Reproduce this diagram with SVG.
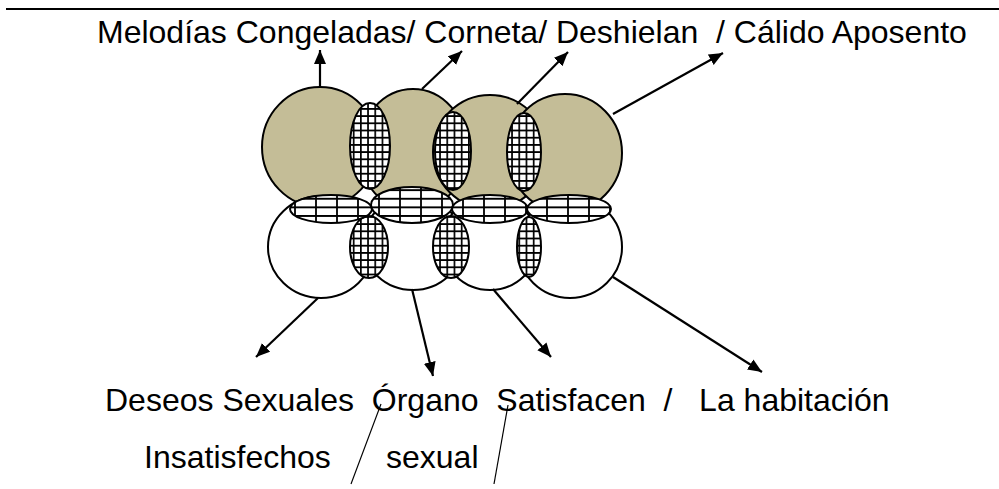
<svg xmlns="http://www.w3.org/2000/svg" width="999" height="489" viewBox="0 0 999 489">
<style>
.t{font-family:"Liberation Sans",Arial,sans-serif;font-size:32px;fill:#000;white-space:pre}
.tan{fill:#C4BD97;stroke:#000;stroke-width:2}
.wh{fill:#fff;stroke:#000;stroke-width:2}
.hv{fill:url(#gridV);stroke:#000;stroke-width:2}
.hh{fill:url(#gridH);stroke:#000;stroke-width:2}
.arr{stroke:#000;stroke-width:2.2;fill:none;marker-end:url(#ah)}
.thin{stroke:#000;stroke-width:1.2;fill:none}
</style>
<defs>
<pattern id="gridV" patternUnits="userSpaceOnUse" width="7.2" height="7.2">
<rect width="7.2" height="7.2" fill="#fff"/>
<path d="M0.8 0V7.2M0 0.8H7.2" stroke="#000" stroke-width="1.8"/>
</pattern>
<pattern id="gridH" patternUnits="userSpaceOnUse" width="21" height="8.6">
<rect width="21" height="8.6" fill="#fff"/>
<path d="M1 0V8.6M0 1H21" stroke="#000" stroke-width="1.8"/>
</pattern>
<marker id="ah" markerUnits="userSpaceOnUse" markerWidth="16" markerHeight="14" refX="14" refY="6" orient="auto">
<path d="M0 0L14 6L0 12Z" fill="#000"/>
</marker>
</defs>
<line x1="6" y1="9" x2="999" y2="9" stroke="#000" stroke-width="2.2"/>
<g id="top-row">
<ellipse id="t1" class="tan" cx="320" cy="147" rx="58" ry="60"/>
<ellipse id="t2" class="tan" cx="413" cy="150" rx="54" ry="61"/>
<ellipse id="t3" class="tan" cx="490" cy="152" rx="57" ry="57"/>
<ellipse id="t4" class="tan" cx="565" cy="153" rx="57" ry="59"/>
<ellipse id="v1" class="hv" cx="370" cy="146" rx="20" ry="43"/>
<ellipse id="v2" class="hv" cx="453" cy="151" rx="18" ry="39"/>
<ellipse id="v3" class="hv" cx="524" cy="152" rx="17" ry="39"/>
</g>
<g id="bottom-row">
<ellipse id="b1" class="wh" cx="321" cy="247" rx="53" ry="51"/>
<ellipse id="b2" class="wh" cx="413" cy="243" rx="50" ry="47"/>
<ellipse id="b3" class="wh" cx="490" cy="243" rx="48" ry="47"/>
<ellipse id="b4" class="wh" cx="570" cy="247" rx="52" ry="51"/>
<ellipse id="w1" class="hv" cx="369" cy="247" rx="19" ry="31"/>
<ellipse id="w2" class="hv" cx="451" cy="247" rx="18" ry="31"/>
<ellipse id="w3" class="hv" cx="529" cy="247" rx="12" ry="30"/>
<ellipse id="e1" class="hh" cx="331" cy="209" rx="41" ry="14"/>
<ellipse id="e2" class="hh" cx="412" cy="205" rx="41" ry="18"/>
<ellipse id="e3" class="hh" cx="490" cy="209" rx="38" ry="14"/>
<ellipse id="e4" class="hh" cx="569" cy="209" rx="42" ry="14"/>
</g>
<g id="connectors">
<line class="arr" x1="320" y1="87" x2="320" y2="50"/>
<line class="arr" x1="422" y1="89" x2="462" y2="51"/>
<line class="arr" x1="517" y1="104" x2="568" y2="52"/>
<line class="arr" x1="613" y1="114" x2="723" y2="53"/>
<line class="arr" x1="318" y1="298" x2="256" y2="357"/>
<line class="arr" x1="412" y1="289" x2="433" y2="376"/>
<line class="arr" x1="493" y1="289" x2="551" y2="357"/>
<line class="arr" x1="613" y1="277" x2="762" y2="372"/>
<line class="thin" x1="381" y1="404" x2="351" y2="484"/>
<line class="thin" x1="508" y1="405" x2="494" y2="484"/>
</g>
<g id="labels">
<text class="t" x="97" y="43">Melodías Congeladas/ Corneta/ Deshielan  / Cálido Aposento</text>
<text class="t" x="105" y="411">Deseos Sexuales  Órgano  Satisfacen  /   La habitación</text>
<text class="t" x="144" y="468">Insatisfechos</text>
<text class="t" x="386" y="468">sexual</text>
</g>
</svg>
